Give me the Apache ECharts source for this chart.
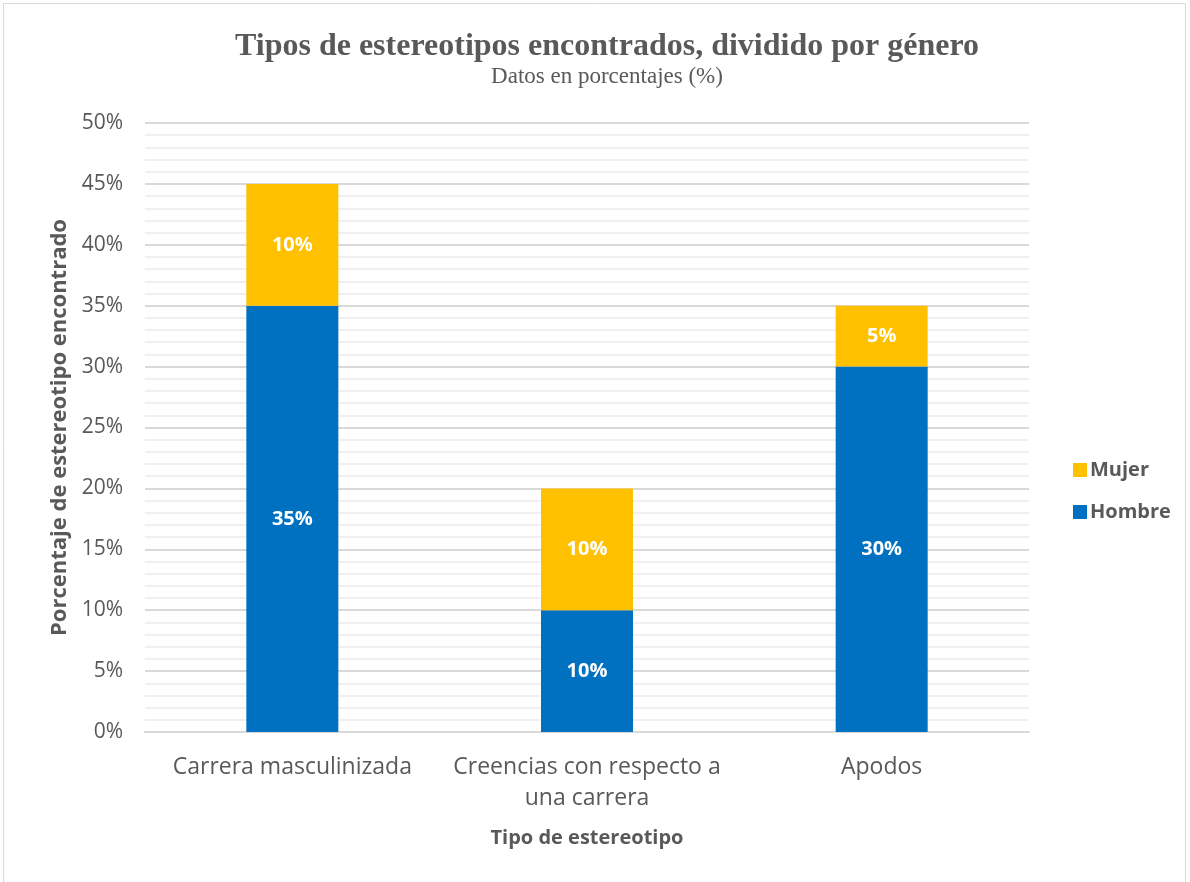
<!DOCTYPE html>
<html>
<head>
<meta charset="utf-8">
<script src="https://cdn.jsdelivr.net/npm/echarts@6/dist/echarts.min.js"></script>
<style>
  html, body { margin: 0; padding: 0; background: #ffffff; }
  #chart { width: 1190px; height: 882px; }
</style>
</head>
<body>
<div id="chart"></div>
<script>
// Stereotype categories and the share found for each gender (%)
const categories = ['Carrera masculinizada', 'Creencias con respecto a\nuna carrera', 'Apodos'];
const hombre = [35, 10, 30];
const mujer = [10, 10, 5];
const yTicks = { min: 0, max: 50, interval: 5 };

const textGray = '#595959';
const sansFont = 'Open Sans';

const chart = echarts.init(document.getElementById('chart'));

const barLabel = {
  show: true,
  position: 'inside',
  color: '#ffffff',
  fontFamily: sansFont,
  fontWeight: 'bold',
  fontSize: 20,
  formatter: p => p.value + '%'
};

chart.setOption({
  backgroundColor: '#ffffff',
  animation: false,
  graphic: [{
    type: 'rect',
    shape: { x: 3.5, y: 3.5, width: 1182, height: 890 },
    style: { fill: 'none', stroke: '#d9d9d9', lineWidth: 1 },
    silent: true
  }],
  title: {
    text: 'Tipos de estereotipos encontrados, dividido por género',
    subtext: 'Datos en porcentajes (%)',
    left: 602,
    textAlign: 'center',
    top: 26,
    itemGap: 2,
    textStyle: {
      fontFamily: 'Liberation Serif',
      fontWeight: 'bold',
      fontSize: 32,
      color: textGray
    },
    subtextStyle: {
      fontFamily: 'Liberation Serif',
      fontSize: 23,
      color: textGray
    }
  },
  legend: {
    orient: 'vertical',
    left: 1068,
    top: 455,
    itemGap: 22,
    itemWidth: 14,
    itemHeight: 14,
    icon: 'rect',
    data: ['Mujer', 'Hombre'],
    textStyle: {
      fontFamily: sansFont,
      fontWeight: 'bold',
      fontSize: 20,
      color: textGray,
      padding: [0, 0, 0, -2]
    }
  },
  grid: { left: 145, right: 161, top: 123, bottom: 150 },
  xAxis: {
    type: 'category',
    data: categories,
    name: 'Tipo de estereotipo',
    nameLocation: 'middle',
    nameGap: 96,
    nameTextStyle: {
      fontFamily: sansFont,
      fontWeight: 'bold',
      fontSize: 20,
      color: textGray
    },
    axisTick: { show: false },
    axisLine: { lineStyle: { color: '#d9d9d9', width: 2 } },
    axisLabel: {
      margin: 20,
      fontFamily: sansFont,
      fontSize: 23,
      color: textGray,
      lineHeight: 31,
      interval: 0
    }
  },
  yAxis: {
    type: 'value',
    min: yTicks.min,
    max: yTicks.max,
    interval: yTicks.interval,
    name: 'Porcentaje de estereotipo encontrado',
    nameLocation: 'middle',
    nameGap: 73,
    nameTextStyle: {
      fontFamily: sansFont,
      fontWeight: 'bold',
      fontSize: 22,
      color: textGray
    },
    axisLine: { show: false },
    axisTick: { show: false },
    axisLabel: {
      margin: 22,
      fontFamily: sansFont,
      fontSize: 21,
      color: textGray,
      formatter: '{value}%'
    },
    splitLine: { show: true, lineStyle: { color: '#d9d9d9', width: 2 } },
    minorTick: { show: false, splitNumber: 5 },
    minorSplitLine: { show: true, lineStyle: { color: '#f0f0f0', width: 2 } }
  },
  series: [
    {
      name: 'Hombre',
      type: 'bar',
      stack: 'total',
      barWidth: 92,
      data: hombre,
      itemStyle: { color: '#0070c0' },
      label: barLabel
    },
    {
      name: 'Mujer',
      type: 'bar',
      stack: 'total',
      barWidth: 92,
      data: mujer,
      itemStyle: { color: '#ffc000' },
      label: barLabel
    }
  ]
});
</script>
</body>
</html>
